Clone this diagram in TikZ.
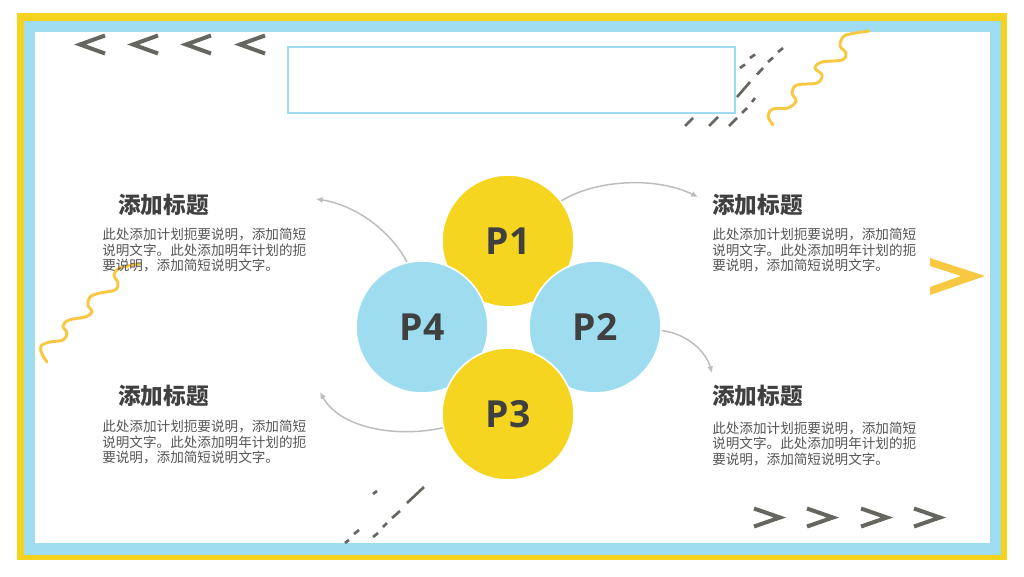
\documentclass[tikz,border=0pt]{standalone}
\usepackage{fontspec}
\usetikzlibrary{arrows.meta}
\newfontfamily\cjk{Noto Sans CJK SC}
\newfontfamily\pfont{Open Sans}
\definecolor{frameY}{HTML}{F6D31F}
\definecolor{frameB}{HTML}{9EDDEF}
\definecolor{circY}{HTML}{F6D520}
\definecolor{circB}{HTML}{9DDDEF}
\definecolor{chevG}{HTML}{666661}
\definecolor{waveY}{HTML}{F9C842}
\definecolor{titleG}{HTML}{404040}
\definecolor{bodyG}{HTML}{555555}
\definecolor{arrG}{HTML}{BDBDBD}
\tikzset{
  chev/.style={draw=chevG, line width=3pt, miter limit=10},
  dsh/.style={draw=chevG, line width=2pt},
  wave/.style={draw=waveY, line width=2.2pt, line cap=round},
  pcirc/.style={circle, minimum size=99pt, inner sep=0pt, draw=white, line width=1.2pt,
     font=\pfont\bfseries\fontsize{28}{30}\selectfont, text=titleG},
  ttl/.style={anchor=west, inner sep=0pt, font=\cjk\bfseries\fontsize{17}{20}\selectfont, text=titleG},
  body/.style={anchor=north west, inner sep=0pt, align=left, font=\cjk\fontsize{10.2}{11.7}\selectfont, text=bodyG},
  conn/.style={draw=arrG, line width=1.1pt, -{Latex[length=5pt,width=4.5pt]}}
}
\begin{document}
\begin{tikzpicture}[x=0.75pt,y=-0.75pt]
\useasboundingbox (0,0) rectangle (1024,576);
\fill[white] (0,0) rectangle (1024,576);
% frame
\fill[frameY] (17,13) rectangle (1007,560);
\fill[frameB] (24,21) rectangle (1001,555);
\fill[white] (35,32) rectangle (990,543);
% top-left chevrons
\foreach \x in {80,133,186,240} \draw[chev] (\x+25,35.5) -- (\x,44.5) -- (\x+25,53.5);
% bottom-right chevrons
\foreach \x in {754,807,861,914} \draw[chev] (\x,508.5) -- (\x+26,517.5) -- (\x,526.5);
% right yellow chevron
\fill[waveY] (930,258) -- (985,276) -- (930,295) -- (930,287) -- (961,276) -- (930,266) -- cycle;
% top-right dashes
\draw[dsh] (783,48)--(778,52) (773,57.5)--(768,62) (763,68)--(757,74.5)
  (755,54.5)--(750,58) (745,64.5)--(740,68) (750,82)--(737,97)
  (755,98)--(752,102) (747,108)--(742,113) (737,118)--(729,126)
  (718,117)--(709,126) (693,118)--(685,126);
% bottom-left dashes
\draw[dsh] (377,491)--(373,494) (424,487)--(407,503) (400,511)--(392,518)
  (387,523)--(383,527) (378,533)--(373,537) (359,530)--(354,534) (349,540)--(345,543);
% title box
\draw[draw=frameB, fill=white, line width=2.2pt] (288,47) rectangle (735,113);
% waves
\draw[wave] plot[smooth, tension=0.6] coordinates {(869,31) (850,34) (843,37) (840,46) (846,53) (842,60) (822,62) (815,68) (822,75) (817,83) (797,85) (792,93) (796,101) (788,108) (773,109) (768,116) (773,125)};
\draw[wave] plot[smooth, tension=0.6] coordinates {(140,264) (120,268) (114,275) (118,283) (115,290) (100,293) (90,297) (88,305) (92,312) (85,317) (69,320) (63,326) (67,333) (63,340) (50,342) (41,346) (42,354) (47,362)};
% circles
\node[pcirc, fill=circY] (P1) at (508,241) {P1};
\node[pcirc, fill=circB] (P4) at (422,327) {P4};
\node[pcirc, fill=circB] (P2) at (595,327) {P2};
\node[pcirc, fill=circY] (P3) at (508,414) {P3};
% arrow ends
\coordinate (e1) at (698,197);
\coordinate (e2) at (316,199);
\coordinate (e3) at (712,373);
\coordinate (e4) at (320,392);
\draw[conn] (P1.37) .. controls (595,180) and (655,176) .. (e1);
\draw[conn] (P4.103) .. controls (390,230) and (355,205) .. (e2);
\draw[conn] (P2.-3) .. controls (688,334) and (706,352) .. (e3);
\draw[conn] (P3.-168) .. controls (395,438) and (340,428) .. (e4);
% texts
\node[ttl] (t1) at (118,205) {添加标题};
\node[body] (b1) at (102,228) {此处添加计划扼要说明，添加简短\\说明文字。此处添加明年计划的扼\\要说明，添加简短说明文字。};
\node[ttl] (t2) at (712,205) {添加标题};
\node[body] (b2) at (712,228) {此处添加计划扼要说明，添加简短\\说明文字。此处添加明年计划的扼\\要说明，添加简短说明文字。};
\node[ttl] (t3) at (118,396) {添加标题};
\node[body] (b3) at (102,420) {此处添加计划扼要说明，添加简短\\说明文字。此处添加明年计划的扼\\要说明，添加简短说明文字。};
\node[ttl] (t4) at (712,396) {添加标题};
\node[body] (b4) at (712,421.5) {此处添加计划扼要说明，添加简短\\说明文字。此处添加明年计划的扼\\要说明，添加简短说明文字。};
\end{tikzpicture}
\end{document}
